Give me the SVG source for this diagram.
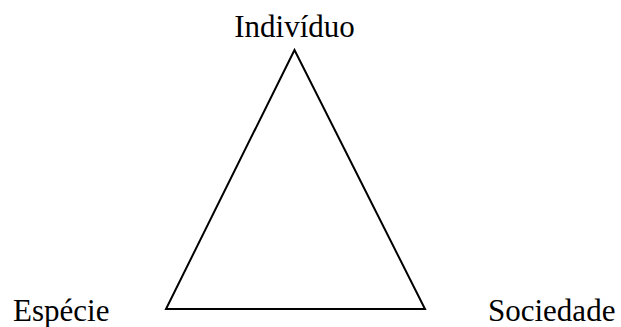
<svg xmlns="http://www.w3.org/2000/svg" width="621" height="327" viewBox="0 0 621 327">
<style>
text{font-family:"Liberation Serif","Times New Roman",serif;font-size:31px;fill:#000}
.edge{fill:none;stroke:#000;stroke-width:2;stroke-linejoin:miter}
</style>
<rect width="621" height="327" fill="#fff"/>
<g id="connectors">
<polygon class="edge" points="294.5,50 166,309 425,309"/>
</g>
<g id="node-individuo"><text x="294.5" y="37" text-anchor="middle">Indivíduo</text></g>
<g id="node-especie"><text x="13" y="321">Espécie</text></g>
<g id="node-sociedade"><text x="488" y="321">Sociedade</text></g>
</svg>
